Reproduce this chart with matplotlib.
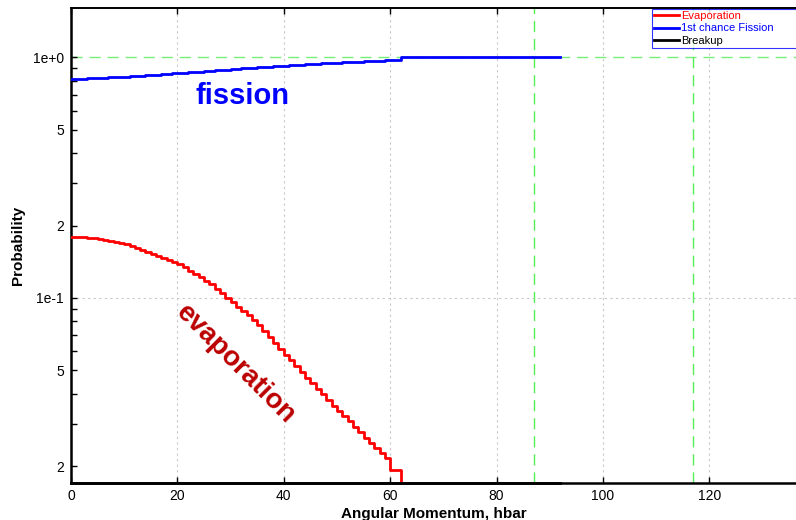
import numpy as np
import matplotlib.pyplot as plt
from matplotlib.ticker import FixedLocator, FixedFormatter, NullFormatter

plt.rcParams['font.family'] = ['Liberation Sans', 'DejaVu Sans']

# angular momentum grid (hbar)
L = np.arange(0, 93)

# evaporation probability for L = 0..61, zero from L = 62 on
evap = [0.179, 0.179, 0.179, 0.178, 0.177, 0.176, 0.175, 0.173, 0.171, 0.169,
        0.167, 0.164, 0.161, 0.158, 0.155, 0.152, 0.149, 0.146, 0.144, 0.141,
        0.138, 0.134, 0.130, 0.126, 0.122, 0.118, 0.114, 0.109, 0.105, 0.100,
        0.096, 0.092, 0.088, 0.085, 0.081, 0.077, 0.073, 0.069, 0.065, 0.0615,
        0.058, 0.055, 0.052, 0.049, 0.0467, 0.0443, 0.042, 0.0398, 0.0377, 0.0357,
        0.0338, 0.0322, 0.0307, 0.0292, 0.0278, 0.0262, 0.0249, 0.0237, 0.0226, 0.0216,
        0.0193, 0.0193, 0.0]

# first chance fission probability
fission = [0.814, 0.815, 0.817, 0.818, 0.820, 0.822, 0.824, 0.826, 0.828, 0.830,
           0.833, 0.835, 0.838, 0.840, 0.843, 0.846, 0.849, 0.852, 0.855, 0.858,
           0.861, 0.864, 0.867, 0.870, 0.874, 0.877, 0.881, 0.884, 0.888, 0.891,
           0.895, 0.898, 0.902, 0.905, 0.908, 0.911, 0.914, 0.917, 0.920, 0.923,
           0.926, 0.929, 0.932, 0.934, 0.937, 0.940, 0.942, 0.945, 0.947, 0.950,
           0.952, 0.954, 0.956, 0.959, 0.961, 0.964, 0.966, 0.969, 0.971, 0.974,
           0.976, 0.978] + [1.0] * 31

# breakup probability (none)
breakup = [0.0] * 93

# markers
hline = 1.0
vlines = [87, 117]

ytick_vals = [1.0, 0.5, 0.2, 0.1, 0.05, 0.02]
ytick_labels = ['1e+0', '5', '2', '1e-1', '5', '2']

ybot, ytop = 0.01701, 1.606

fig = plt.figure(figsize=(7.96, 5.2), dpi=100)
ax = fig.add_axes([71 / 796, 37 / 520, 725 / 796, 475 / 520])
ax.set_yscale('log')
ax.set_xlim(0, 136.3)
ax.set_ylim(ybot, ytop)

# grid
for x in range(20, 140, 20):
    ax.axvline(x, color='#c8c8c8', lw=0.8, ls=(0, (2, 3)), zorder=0)
ax.axhline(0.1, color='#c8c8c8', lw=0.8, ls=(0, (2, 3)), zorder=0)

# green dashed markers
ax.axhline(hline, color='#77ee77', lw=1.0, ls=(0, (8, 5)), zorder=1)
for v in vlines:
    ax.axvline(v, color='#55ee55', lw=1.0, ls=(0, (8, 5)), zorder=1)

ax.step(L[:len(evap)], evap, where='post', color='#ff0000', lw=2.0,
        label='Evaporation', zorder=3)
ax.step(L, fission, where='post', color='#0000ff', lw=2.0,
        label='1st chance Fission', zorder=3)
ax.step(L, np.maximum(breakup, ybot), where='post', color='black', lw=2.0,
        label='Breakup', zorder=4, clip_on=False)

# ticks
ax.yaxis.set_major_locator(FixedLocator(ytick_vals))
ax.yaxis.set_major_formatter(FixedFormatter(ytick_labels))
minor = [m * 10.0 ** e for e in (-2, -1, 0) for m in range(2, 10)]
ax.yaxis.set_minor_locator(FixedLocator(minor))
ax.yaxis.set_minor_formatter(NullFormatter())
ax.set_xticks(range(0, 140, 20))
ax.tick_params(axis='both', which='both', direction='in', length=4, width=1,
               labelsize=10, pad=5, top=True, right=False)
ax.tick_params(axis='x', which='major', pad=4)

for s in ('left', 'bottom'):
    ax.spines[s].set_linewidth(1.8)
ax.spines['top'].set_linewidth(1.4)
ax.spines['right'].set_visible(False)

ax.set_xlabel('Angular Momentum, hbar', fontsize=11, fontweight='bold', labelpad=3)
ax.set_ylabel('Probability', fontsize=11, fontweight='bold', labelpad=6)

ax.text(32.3, 0.69, 'fission', color='#0000ff', fontsize=21, fontweight='bold',
        ha='center', va='center')
ax.text(31.0, 0.053, 'evaporation', color='#bb0000', fontsize=20, fontweight='bold',
        ha='center', va='center', rotation=-45, rotation_mode='anchor')

leg = ax.legend(loc='upper left', bbox_to_anchor=(652 / 796, 0, 160 / 796, 511 / 520),
                bbox_transform=fig.transFigure, mode='expand', fontsize=8,
                frameon=True, fancybox=False, handlelength=2.2, handletextpad=0.25,
                borderpad=0.2, labelspacing=0.2, borderaxespad=0,
                labelcolor='linecolor')
leg.get_frame().set_edgecolor('#0000ff')
leg.get_frame().set_linewidth(0.8)

fig.savefig('out.png', dpi=100)
